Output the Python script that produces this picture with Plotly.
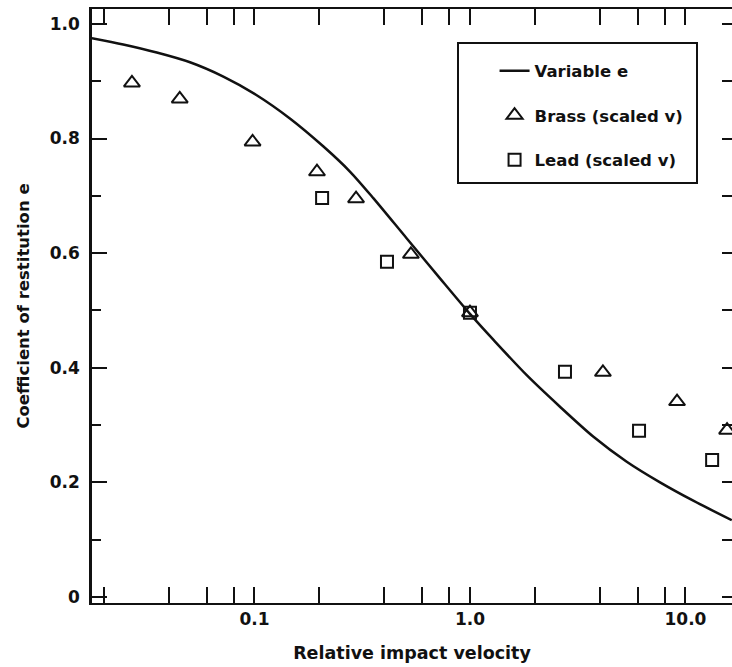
import plotly.graph_objects as go

# Curve "Variable e"
curve_v = [0.0176, 0.0246, 0.0352, 0.0502, 0.0717, 0.102, 0.146, 0.209, 0.278, 0.356,
           0.508, 0.726, 1.0, 1.283, 1.834, 2.616, 3.73, 5.34, 7.62, 10.87, 16.4]
curve_e = [0.975, 0.964, 0.950, 0.933, 0.908, 0.876, 0.835, 0.786, 0.742, 0.696,
           0.626, 0.556, 0.494, 0.449, 0.387, 0.332, 0.280, 0.236, 0.200, 0.168, 0.134]

# Brass (scaled v)
brass_v = [0.027, 0.045, 0.098, 0.195, 0.296, 0.532, 1.0, 4.14, 9.14, 15.6]
brass_e = [0.897, 0.869, 0.794, 0.742, 0.695, 0.598, 0.496, 0.392, 0.341, 0.291]

# Lead (scaled v)
lead_v = [0.206, 0.412, 1.0, 2.76, 6.09, 13.3]
lead_e = [0.696, 0.585, 0.496, 0.393, 0.290, 0.239]

x_tickvals = [0.1, 1.0, 10.0]
x_ticktext = ["0.1", "1.0", "10.0"]
x_minor = [0.02, 0.04, 0.06, 0.08, 0.2, 0.4, 0.6, 0.8, 2, 4, 6, 8]
y_tickvals = [0, 0.2, 0.4, 0.6, 0.8, 1.0]
y_ticktext = ["0", "0.2", "0.4", "0.6", "0.8", "1.0"]
y_minor = [0.1, 0.3, 0.5, 0.7, 0.9]

FONT = "DejaVu Sans"
INK = "#111111"

fig = go.Figure()
fig.add_trace(go.Scatter(
    x=curve_v, y=curve_e, mode="lines", name="<b>Variable e</b>",
    line=dict(color=INK, width=2.5, shape="spline", smoothing=0.8),
    legendgroup="a",
))
fig.add_trace(go.Scatter(
    x=brass_v, y=brass_e, mode="markers", name="<b>Brass (scaled v)</b>",
    marker=dict(symbol="triangle-up-open", size=14, color=INK, line=dict(width=2, color=INK)),
    legendgroup="b",
))
fig.add_trace(go.Scatter(
    x=lead_v, y=lead_e, mode="markers", name="<b>Lead (scaled v)</b>",
    marker=dict(symbol="square-open", size=12, color=INK, line=dict(width=2, color=INK)),
    legendgroup="c",
))
# invisible trace on right-hand y axis to carry the mirrored ticks
fig.add_trace(go.Scatter(x=[1.0], y=[0.5], yaxis="y2", mode="markers",
                         marker=dict(opacity=0), showlegend=False, hoverinfo="skip"))

fig.update_layout(
    width=732, height=667,
    margin=dict(l=92, r=0, t=9, b=64),
    paper_bgcolor="white", plot_bgcolor="white",
    font=dict(family=FONT, color=INK, size=17),
    showlegend=True,
    legend=dict(
        x=0.629, y=0.925, xanchor="left", yanchor="top",
        bgcolor="rgba(0,0,0,0)", borderwidth=0,
        font=dict(family=FONT, size=16.5, color=INK),
        tracegroupgap=20, itemwidth=30,
    ),
    xaxis=dict(
        type="log", range=[-1.754, 1.216],
        tickmode="array", tickvals=x_tickvals, ticktext=x_ticktext,
        ticks="inside", ticklen=16, tickwidth=2, tickcolor=INK,
        showline=True, linecolor=INK, linewidth=2, mirror="allticks",
        showgrid=False, zeroline=False,
        tickfont=dict(family=FONT, size=17, color=INK, weight="bold"),
        minor=dict(tickmode="array", tickvals=x_minor, ticks="inside",
                   ticklen=8, tickwidth=2, tickcolor=INK, showgrid=False),
        title=dict(text="<b>Relative impact velocity</b>", standoff=18,
                   font=dict(family=FONT, size=17.5, color=INK)),
    ),
    yaxis=dict(
        range=[-0.0105, 1.026],
        tickmode="array", tickvals=y_tickvals, ticktext=y_ticktext,
        ticks="inside", ticklen=15, tickwidth=2, tickcolor=INK,
        showline=True, linecolor=INK, linewidth=2.5, mirror=False,
        showgrid=False, zeroline=False, ticklabelstandoff=6,
        tickfont=dict(family=FONT, size=17, color=INK, weight="bold"),
        minor=dict(tickmode="array", tickvals=y_minor, ticks="inside",
                   ticklen=9, tickwidth=2, tickcolor=INK, showgrid=False),
        title=dict(text="<b>Coefficient of restitution e</b>", standoff=16,
                   font=dict(family=FONT, size=16.5, color=INK)),
    ),
    yaxis2=dict(
        overlaying="y", side="right", matches="y",
        tickmode="array", tickvals=y_tickvals, showticklabels=False,
        ticks="inside", ticklen=10, tickwidth=2, tickcolor=INK,
        showline=False, showgrid=False, zeroline=False,
        minor=dict(tickmode="array", tickvals=y_minor, ticks="inside",
                   ticklen=10, tickwidth=2, tickcolor=INK, showgrid=False),
    ),
    shapes=[dict(type="rect", xref="paper", yref="paper",
                 x0=(458 - 92) / 640, x1=(697 - 92) / 640,
                 y0=(603 - 183) / 594, y1=(603 - 43) / 594,
                 line=dict(color=INK, width=2), fillcolor="rgba(0,0,0,0)", layer="above")],
)

fig.write_html("out.html")
